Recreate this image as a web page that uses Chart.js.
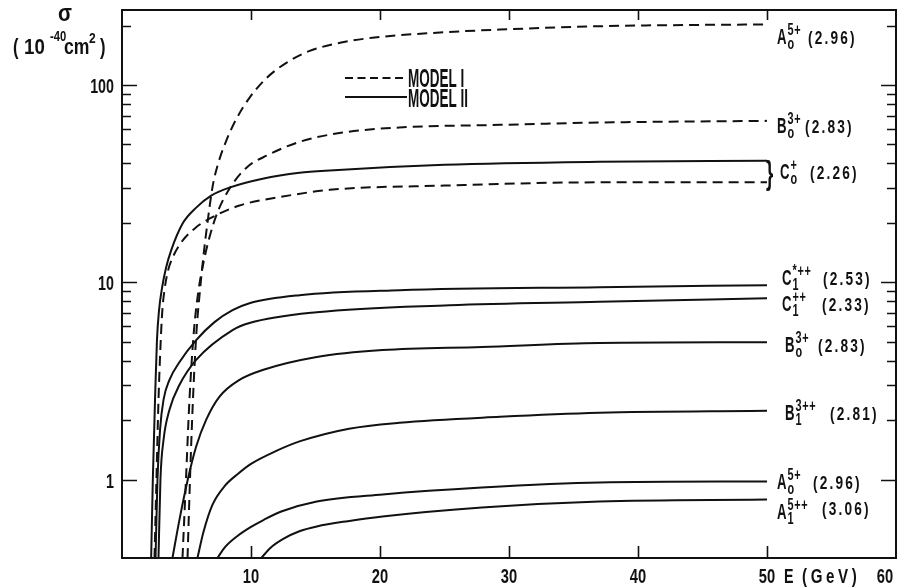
<!DOCTYPE html>
<html>
<head>
<meta charset="utf-8">
<script src="https://cdn.jsdelivr.net/npm/chart.js@4.4.1/dist/chart.umd.min.js"></script>
<style>
  html, body { margin: 0; padding: 0; background: #fff; }
  #wrap { width: 901px; height: 588px; }
</style>
</head>
<body>
<div id="wrap"><canvas id="sigmaChart" width="901" height="588"></canvas></div>
<script>
// E in GeV, sigma in 10^-40 cm^2
// Model I (dashed)
const eA0_I = [5.08, 5.27, 5.50, 5.78, 6.01, 6.32, 6.63, 7.02, 7.40, 8.10, 8.88, 9.88, 11.2, 12.8, 14.5, 16.9, 19.4, 24.1, 29.3, 37, 50];
const sA0_I = [0.4, 1.0, 2.54, 5.72, 8.6, 13.7, 20.1, 30.5, 38.9, 52.5, 67.6, 86.1, 108.4, 130.3, 148.5, 163.7, 173.5, 183.7, 191, 198.6, 203];
const eB0_I = [4.69, 4.96, 5.23, 5.58, 5.93, 6.32, 6.78, 7.40, 8.33, 9.65, 11.2, 13.76, 17.1, 21.5, 29.3, 37, 50];
const sB0_I = [0.4, 1.0, 2.54, 5.72, 9.1, 12.6, 16.9, 22.6, 29.8, 38.1, 43.8, 51.5, 57.4, 60.9, 62.8, 64.5, 65.8];
const eC0_I = [2.52, 2.67, 2.83, 3.04, 3.14, 3.29, 3.53, 3.94, 4.71, 5.75, 6.78, 9.11, 12.2, 16.1, 25, 37, 50];
const sC0_I = [0.4, 1.0, 2.54, 5.72, 7.39, 9.1, 11.2, 13.4, 16.3, 19.0, 21.0, 24.5, 27.0, 29.4, 30.9, 32.1, 32.1];

// Model II (solid)
const eC0_II = [2.26, 2.39, 2.56, 2.71, 2.87, 3.10, 3.41, 3.81, 4.71, 5.75, 6.91, 8.33, 10.9, 13.76, 16.1, 25, 37, 50];
const sC0_II = [0.4, 1.0, 2.54, 5.09, 7.2, 9.33, 11.8, 14.5, 19.9, 23.9, 27.5, 30.2, 33.5, 35.9, 36.9, 39.4, 40.8, 41.3];
const eC1s_II = [2.60, 2.75, 2.95, 3.22, 3.68, 4.46, 5.75, 7.17, 8.57, 9.88, 13.76, 21.5, 37, 50];
const sC1s_II = [0.4, 1.0, 1.79, 2.54, 3.2, 3.94, 5.09, 6.28, 7.22, 7.83, 8.6, 9.11, 9.44, 9.66];
const eC1_II = [2.83, 2.98, 3.22, 3.68, 4.46, 5.75, 8.57, 9.88, 15.1, 25.4, 37, 50];
const sC1_II = [0.4, 1.0, 1.59, 2.26, 3.02, 4.04, 5.72, 6.21, 7.05, 7.65, 7.96, 8.3];
const eB0_II = [3.91, 4.46, 5.10, 5.75, 6.53, 7.56, 9.11, 10.9, 15.1, 20.2, 27.9, 37, 50];
const sB0_II = [0.4, 0.628, 1.0, 1.47, 2.01, 2.63, 3.2, 3.59, 4.18, 4.53, 4.7, 4.92, 4.97];
const eB1_II = [5.85, 6.3, 7.0, 8.0, 9.0, 10.0, 12.0, 13.76, 17.6, 21.5, 29.3, 37, 50];
const sB1_II = [0.4, 0.537, 0.741, 0.933, 1.07, 1.2, 1.40, 1.56, 1.81, 1.94, 2.08, 2.18, 2.23];
const eA0_II = [7.40, 8.0, 9.0, 10.0, 11.0, 12.4, 15.1, 20.2, 27.9, 37, 50];
const sA0_II = [0.4, 0.455, 0.52, 0.575, 0.625, 0.69, 0.774, 0.84, 0.911, 0.966, 0.977];
const eA1_II = [10.8, 11.5, 12.5, 13.8, 15.1, 17.5, 20.2, 27.9, 37, 50];
const sA1_II = [0.4, 0.45, 0.5, 0.548, 0.578, 0.615, 0.65, 0.722, 0.774, 0.792];

// axis ticks
const xTickLabels = [10, 20, 30, 40, 50, 60];
const yTickLabels = [1, 10, 100];

// curve labels: letter, superscript, subscript, mass
const labelA0_I = ['A', '5+', 'o', '(2.96)'];
const labelB0_I = ['B', '3+', 'o', '(2.83)'];
const labelC0 = ['C', '+', 'o', '(2.26)'];
const labelC1s_II = ['C', '*++', '1', '(2.53)'];
const labelC1_II = ['C', '++', '1', '(2.33)'];
const labelB0_II = ['B', '3+', 'o', '(2.83)'];
const labelB1_II = ['B', '3++', '1', '(2.81)'];
const labelA0_II = ['A', '5+', 'o', '(2.96)'];
const labelA1_II = ['A', '5++', '1', '(3.06)'];

const INK = '#111';
const FONT = "'Liberation Sans', 'DejaVu Sans', sans-serif";

function curve(E, sig, dashed) {
    return {
        data: E.map((e, i) => ({ x: e, y: sig[i] })),
        borderColor: INK,
        borderWidth: 2,
        borderDash: dashed ? [10, 6] : [],
        pointRadius: 0,
        cubicInterpolationMode: 'monotone',
        fill: false
    };
}

// text squeezed horizontally to mimic the condensed lettering
function put(ctx, s, x, y, size, sx, align, spacing) {
    ctx.save();
    ctx.font = 'bold ' + size + 'px ' + FONT;
    ctx.textAlign = align || 'left';
    ctx.textBaseline = 'alphabetic';
    ctx.fillStyle = INK;
    ctx.letterSpacing = (spacing || 0) + 'px';
    const w = ctx.measureText(s).width * sx;
    ctx.translate(x, y);
    ctx.scale(sx, 1);
    ctx.fillText(s, 0, 0);
    ctx.restore();
    return w;
}

function curveLabel(ctx, lab, x, y, noteX, noteDy) {
    const w = put(ctx, lab[0], x, y, 22, 0.6);
    put(ctx, lab[1], x + w + 1, y - 9, 16, 0.68, 'left', 1);
    put(ctx, lab[2], x + w + 1, y + 5, 16, 0.68);
    put(ctx, lab[3], noteX, y + (noteDy || 0), 19, 0.72, 'left', 3);
}

const datasets = [
    curve(eA0_I, sA0_I, true),
    curve(eB0_I, sB0_I, true),
    curve(eC0_I, sC0_I, true),
    curve(eC0_II, sC0_II, false),
    curve(eC1s_II, sC1s_II, false),
    curve(eC1_II, sC1_II, false),
    curve(eB0_II, sB0_II, false),
    curve(eB1_II, sB1_II, false),
    curve(eA0_II, sA0_II, false),
    curve(eA1_II, sA1_II, false)
];

const decor = {
    id: 'decor',
    afterDraw(chart) {
        const ctx = chart.ctx;
        const a = chart.chartArea;
        const xs = chart.scales.x, ys = chart.scales.y;

        // frame
        ctx.save();
        ctx.strokeStyle = INK;
        ctx.lineWidth = 2;
        ctx.strokeRect(a.left, a.top, a.right - a.left, a.bottom - a.top);

        // y ticks (inward, both sides)
        ctx.lineWidth = 1.6;
        [1, 10, 100].forEach(dec => {
            for (let m = 1; m <= 9; m++) {
                const v = dec * m;
                if (v > ys.max) continue;
                const py = Math.round(ys.getPixelForValue(v)) + 0.5;
                const len = m === 1 ? 15 : 9;
                ctx.beginPath();
                ctx.moveTo(a.left, py); ctx.lineTo(a.left + len, py);
                ctx.moveTo(a.right, py); ctx.lineTo(a.right - len, py);
                ctx.stroke();
            }
        });
        // x ticks (inward, top and bottom)
        xTickLabels.forEach(v => {
            if (v >= xs.max) return;
            const px = Math.round(xs.getPixelForValue(v)) + 0.5;
            ctx.beginPath();
            ctx.moveTo(px, a.bottom); ctx.lineTo(px, a.bottom - 12);
            ctx.moveTo(px, a.top); ctx.lineTo(px, a.top + 10);
            ctx.stroke();
        });
        ctx.restore();

        // tick labels
        yTickLabels.forEach(v => {
            put(ctx, String(v), a.left - 8, ys.getPixelForValue(v) + 8, 21, 0.68, 'right');
        });
        xTickLabels.forEach(v => {
            if (v >= xs.max) return;
            put(ctx, String(v), xs.getPixelForValue(v), a.bottom + 25, 21, 0.7, 'center');
        });
        put(ctx, String(xTickLabels[xTickLabels.length - 1]), xs.getPixelForValue(60) - 11, a.bottom + 25, 21, 0.7, 'center');
        put(ctx, 'E', xs.getPixelForValue(50) + 17, a.bottom + 25, 21, 0.68);
        put(ctx, '(GeV)', xs.getPixelForValue(50) + 35, a.bottom + 25, 21, 0.72, 'left', 5);

        // y axis title
        put(ctx, 'σ', 65, 21, 24, 0.85, 'center');
        put(ctx, '(', 13, 54, 22, 0.75);
        put(ctx, '10', 24, 54, 22, 0.85);
        put(ctx, '-40', 50, 41, 15, 0.75);
        put(ctx, 'cm', 64, 54, 22, 0.8);
        put(ctx, '2', 89, 43, 15, 0.8);
        put(ctx, ')', 100, 54, 22, 0.75);

        // legend
        ctx.save();
        ctx.strokeStyle = INK;
        ctx.lineWidth = 2;
        ctx.setLineDash([8, 4.5]);
        ctx.beginPath(); ctx.moveTo(345, 78); ctx.lineTo(407, 78); ctx.stroke();
        ctx.setLineDash([]);
        ctx.beginPath(); ctx.moveTo(345, 97); ctx.lineTo(407, 97); ctx.stroke();
        ctx.restore();
        put(ctx, 'MODEL I', 408, 87, 26, 0.52);
        put(ctx, 'MODEL II', 408, 107, 26, 0.52);

        // curve labels, anchored at the end value of each curve
        const endY = (arr) => ys.getPixelForValue(arr[arr.length - 1]);
        curveLabel(ctx, labelA0_I, 777, endY(sA0_I) + 20, 808);
        curveLabel(ctx, labelB0_I, 777, endY(sB0_I) + 12, 805);
        const yTopC = endY(sC0_II), yBotC = endY(sC0_I);
        put(ctx, '}', 766, (yTopC + yBotC) / 2 + 12, 34, 0.55);
        curveLabel(ctx, labelC0, 780, (yTopC + yBotC) / 2 + 7, 810);
        curveLabel(ctx, labelC1s_II, 782, endY(sC1s_II), 823);
        curveLabel(ctx, labelC1_II, 782, endY(sC1_II) + 13, 822);
        curveLabel(ctx, labelB0_II, 785, endY(sB0_II) + 10, 818);
        curveLabel(ctx, labelB1_II, 785, endY(sB1_II) + 9, 830);
        curveLabel(ctx, labelA0_II, 777, endY(sA0_II) + 8, 813);
        curveLabel(ctx, labelA1_II, 777, endY(sA1_II) + 20, 822, -4);
    }
};

new Chart(document.getElementById('sigmaChart').getContext('2d'), {
    type: 'line',
    data: { datasets: datasets },
    options: {
        responsive: false,
        animation: false,
        layout: { padding: { left: 122, right: 5, top: 10, bottom: 30 } },
        scales: {
            x: { type: 'linear', min: 0, max: 60, display: false },
            y: { type: 'logarithmic', min: 0.4, max: 240, display: false }
        },
        plugins: {
            legend: { display: false },
            tooltip: { enabled: false }
        }
    },
    plugins: [decor]
});
</script>
</body>
</html>
